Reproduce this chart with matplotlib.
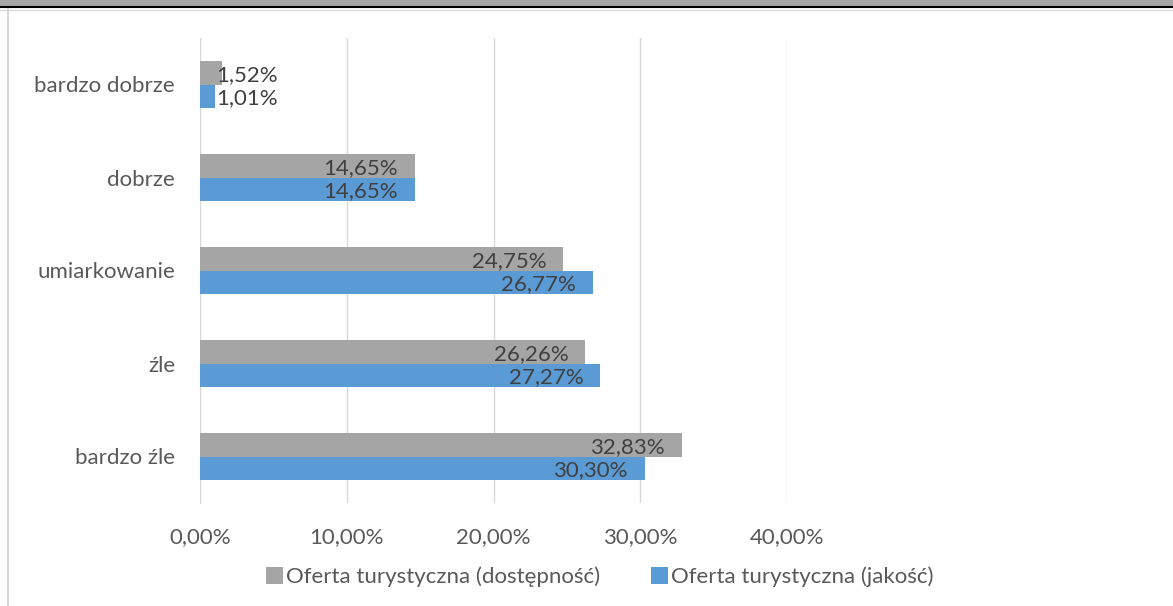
import matplotlib
matplotlib.use("Agg")
import matplotlib.pyplot as plt
from matplotlib.patches import Rectangle
from matplotlib.lines import Line2D
import numpy as np

plt.rcParams['font.family'] = ['Lato', 'DejaVu Sans']

categories = ["bardzo dobrze", "dobrze", "umiarkowanie", "źle", "bardzo źle"]
dostepnosc = [1.52, 14.65, 24.75, 26.26, 32.83]
jakosc = [1.01, 14.65, 26.77, 27.27, 30.30]
series_names = ["Oferta turystyczna (dostępność)", "Oferta turystyczna (jakość)"]
xticks = [0, 10, 20, 30, 40]
xticklabels = ["0,00%", "10,00%", "20,00%", "30,00%", "40,00%"]

gray = "#a5a5a5"
blue = "#5b9bd5"
txt = "#404040"
tick_c = "#595959"
FS = 16

fig = plt.figure(figsize=(11.73, 6.06), dpi=100)
ax = fig.add_axes([200/1173, 1-503/606, 587/1173, 465/606])

y = np.arange(len(categories))
h = 0.253
b1 = ax.barh(y - h/2, dostepnosc, height=h, color=gray, label=series_names[0], zorder=3)
b2 = ax.barh(y + h/2, jakosc, height=h, color=blue, label=series_names[1], zorder=3)

def fmt(v):
    return f"{v:.2f}".replace(".", ",") + "%"

for vals, off in ((dostepnosc, -h/2), (jakosc, h/2)):
    for i, v in enumerate(vals):
        if v < 5:
            ax.annotate(fmt(v), (0, i + off), xytext=(11.5, -1.5), textcoords="offset points",
                        ha="left", va="center", fontsize=FS, color=txt, zorder=4)
        else:
            ax.annotate(fmt(v), (v, i + off), xytext=(-12, -1.5), textcoords="offset points",
                        ha="right", va="center", fontsize=FS, color=txt, zorder=4)

ax.set_xlim(0, 40)
ax.set_ylim(len(categories) - 0.5, -0.5)
ax.set_yticks(y)
ax.set_yticklabels(categories, fontsize=FS, color=tick_c)
ax.set_xticks(xticks)
ax.set_xticklabels(xticklabels, fontsize=FS, color=tick_c)
ax.tick_params(axis="both", length=0)
ax.tick_params(axis="y", pad=18)
ax.tick_params(axis="x", pad=17)
ax.grid(axis="x", color="#d9d9d9", linewidth=1, zorder=0)
for s in ("top", "right", "bottom"):
    ax.spines[s].set_visible(False)
ax.spines["left"].set_color("#d9d9d9")
ax.spines["left"].set_zorder(0)

fig.legend(handles=[b1, b2], labels=series_names, loc="center", bbox_to_anchor=(600/1173, 1-577/606),
           ncol=2, frameon=False, fontsize=FS, labelcolor=tick_c,
           handlelength=0.75, handleheight=0.75, handletextpad=0.15, columnspacing=2.3)

# frame decorations
fig.add_artist(Rectangle((0, 1-6/606), 1, 6/606, transform=fig.transFigure, color="#a6a6a6", lw=0))
fig.add_artist(Line2D([0, 1], [1-7/606, 1-7/606], transform=fig.transFigure, color="black", lw=1.5))
fig.add_artist(Line2D([0, 1], [1-9.5/606, 1-9.5/606], transform=fig.transFigure, color="#d9d9d9", lw=1))
fig.add_artist(Line2D([7.5/1173, 7.5/1173], [0, 1-9/606], transform=fig.transFigure, color="#d9d9d9", lw=1.5))

fig.savefig("out.png", dpi=100)
